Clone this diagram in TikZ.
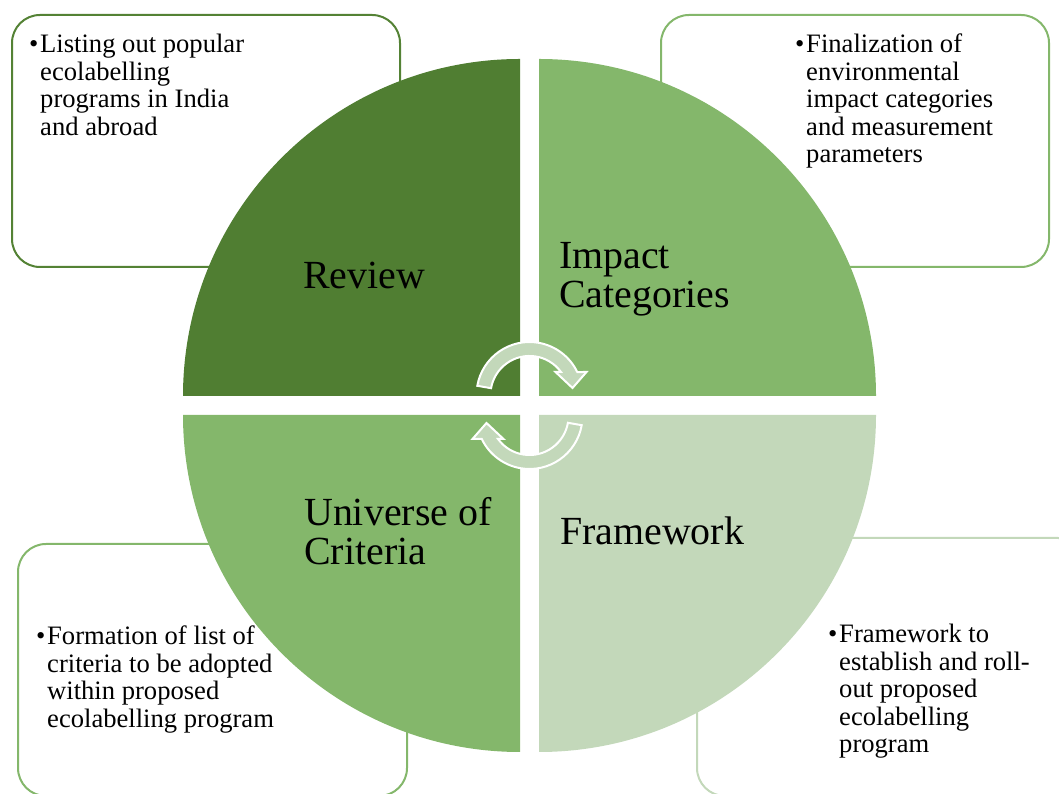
\documentclass[tikz,border=0pt]{standalone}
\usepackage{fontspec}
\setmainfont{Liberation Serif}
\definecolor{dkg}{HTML}{507E32}
\definecolor{mdg}{HTML}{84B76B}
\definecolor{ltg}{HTML}{C3D8BA}
\definecolor{bdk}{HTML}{548235}
\newcommand\cyclearrowpath{(-52.2,9.2) arc[start angle=170,end angle=25.7,radius=53] -- (57,23) -- (43,7) -- (26,23) -- (31.5,23) arc[start angle=36.1,end angle=170,radius=39] -- cycle}
\begin{document}
\begin{tikzpicture}[x=1pt,y=1pt,
  box/.style={line width=2pt, rounded corners=28pt},
  small/.style={inner sep=0pt, anchor=base west, font=\fontsize{26.6}{27.5}\selectfont},
  big/.style={inner sep=0pt, anchor=base west, font=\fontsize{39.9}{39}\selectfont},
  arrowshape/.style={fill=ltg, draw=white, line width=2pt, line join=miter}]
\useasboundingbox (0,0) rectangle (1059,794);
\clip (0,0) rectangle (1059,794);
% boxes
\draw[box, draw=bdk] (12,527) rectangle (400,779);
\draw[box, draw=mdg] (661,527) rectangle (1049,779);
\draw[box, draw=mdg] (18,-2) rectangle (407,250);
\draw[box, draw=ltg] (697,-2) rectangle (1086,256);
% quadrants
\fill[dkg] (520,398) -- ++(-337,0) arc[start angle=180,end angle=90,radius=337] -- cycle;
\fill[mdg] (539,398) -- ++(0,337) arc[start angle=90,end angle=0,radius=337] -- cycle;
\fill[mdg] (520,379) -- ++(0,-337) arc[start angle=270,end angle=180,radius=337] -- cycle;
\fill[ltg] (539,379) -- ++(337,0) arc[start angle=0,end angle=-90,radius=337] -- cycle;
% arrows
\begin{scope}[shift={(529.5,399)}]
\draw[arrowshape] \cyclearrowpath;
\end{scope}
\begin{scope}[shift={(529.5,378)}, rotate=180]
\draw[arrowshape] \cyclearrowpath;
\end{scope}
% big labels
\node[big] (review) at (303,505) {Review};
\node[big] (impact) at (559,525) {\vtop{\hbox{Impact}\hbox{Categories}}};
\node[big] (universe) at (304,268) {\vtop{\hbox{Universe of}\hbox{Criteria}}};
\node[big] (framework) at (560,249) {Framework};
% bullets
\node[small] (btl) at (29,741) {•};
\node[small] (ttl) at (40,741) {\vtop{\hbox{Listing out popular}\hbox{ecolabelling}\hbox{programs in India}\hbox{and abroad}}};
\node[small] (btr) at (795,741) {•};
\node[small] (ttr) at (806,741) {\vtop{\hbox{Finalization of}\hbox{environmental}\hbox{impact categories}\hbox{and measurement}\hbox{parameters}}};
\node[small] (bbl) at (36,149) {•};
\node[small] (tbl) at (47,149) {\vtop{\hbox{Formation of list of}\hbox{criteria to be adopted}\hbox{within proposed}\hbox{ecolabelling program}}};
\node[small] (bbr) at (828,151) {•};
\node[small] (tbr) at (839,151) {\vtop{\hbox{Framework to}\hbox{establish and roll-}\hbox{out proposed}\hbox{ecolabelling}\hbox{program}}};
\end{tikzpicture}
\end{document}
